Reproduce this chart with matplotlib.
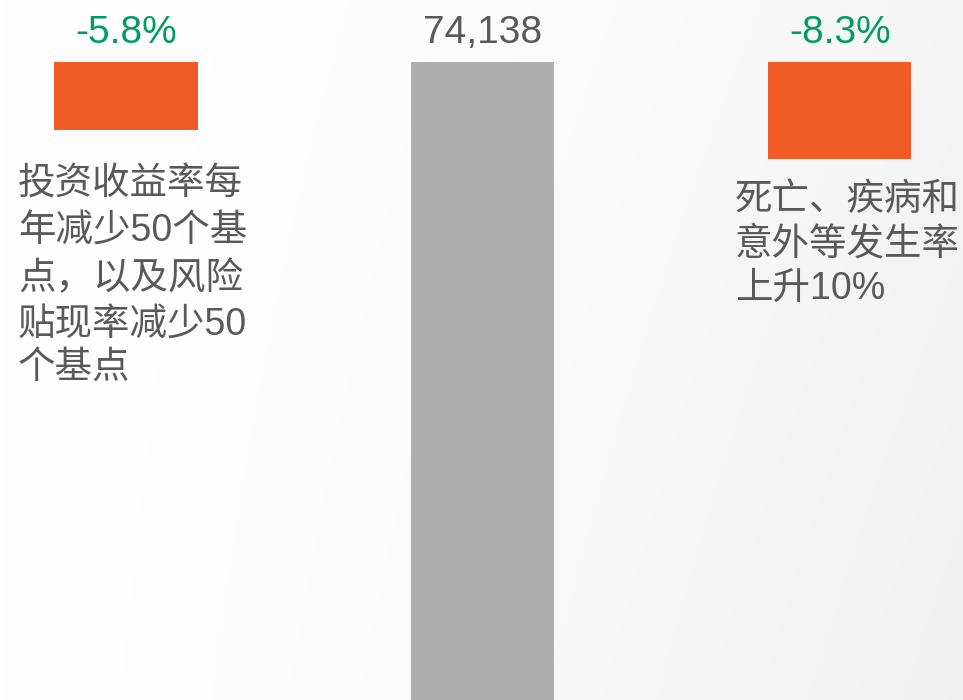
import numpy as np
import matplotlib
matplotlib.use("Agg")
import matplotlib.pyplot as plt

# ---- data ----
scenario_labels = [
    ["投资收益率每", "年减少50个基", "点，以及风险", "贴现率减少50", "个基点"],
    ["死亡、疾病和", "意外等发生率", "上升10%"],
]
base_value = 74138
base_label = "74,138"
pct_changes = [-5.8, -8.3]
pct_labels = ["-5.8%", "-8.3%"]

# ---- styling ----
ORANGE = "#F05A24"
GREEN = "#009B62"
GREY_BAR = "#AEAEAE"
TEXT_GREY = "#595959"
FS = 27
FS_NUM = 28
FAM = ["Liberation Sans", "Noto Sans CJK SC", "DejaVu Sans"]

W, H = 963, 700
fig = plt.figure(figsize=(W / 100, H / 100), dpi=100)

# background gradient
bg = fig.add_axes([0, 0, 1, 1], zorder=0)
xx, yy = np.meshgrid(np.linspace(0, 1, 300), np.linspace(0, 1, 220))
g = 1.0 - 0.04 * xx ** 1.6 - 0.02 * xx * yy
g = np.clip(g, 0, 1)
bg.imshow(np.dstack([g, g, g]), extent=[0, 1, 0, 1], aspect="auto", origin="upper")
bg.set_xlim(0, 1); bg.set_ylim(0, 1)
bg.axis("off")

ax = fig.add_axes([0, 0, 1, 1], zorder=1)
ax.set_facecolor("none")

positions = [0, 1, 2]
width = 0.401
impacts = [base_value * p / 100.0 for p in pct_changes]

# left and right: impact bars hanging from the base value
ax.bar(positions[0], impacts[0], bottom=base_value, width=width, color=ORANGE)
ax.bar(positions[2], impacts[1], bottom=base_value, width=width, color=ORANGE)
# centre: base value
ax.bar(positions[1], base_value, width=width, color=GREY_BAR)

ax.set_xlim(-0.353, 2.345)
ax.set_ylim(33500, 78090)
ax.axis("off")

# value labels
pt = 72 / 100
for pos, lab, col in [(positions[0], pct_labels[0], GREEN),
                      (positions[1], base_label, TEXT_GREY),
                      (positions[2], pct_labels[1], GREEN)]:
    ax.annotate(lab, xy=(pos, base_value), xytext=(0, 19 * pt),
                textcoords="offset points", ha="center", va="baseline",
                fontsize=FS_NUM, color=col, family=FAM)

# scenario descriptions
left_lines_y = [185, 232, 279, 325, 368]
for line, y in zip(scenario_labels[0], left_lines_y):
    fig.text(18 / W, 1 - y / H, line, ha="left", va="center",
             fontsize=FS, color=TEXT_GREY, family=FAM)

right_lines_y = [200, 245, 289]
for line, y in zip(scenario_labels[1], right_lines_y):
    fig.text(735 / W, 1 - y / H, line, ha="left", va="center",
             fontsize=FS, color=TEXT_GREY, family=FAM)

fig.savefig("out.png", dpi=100)
